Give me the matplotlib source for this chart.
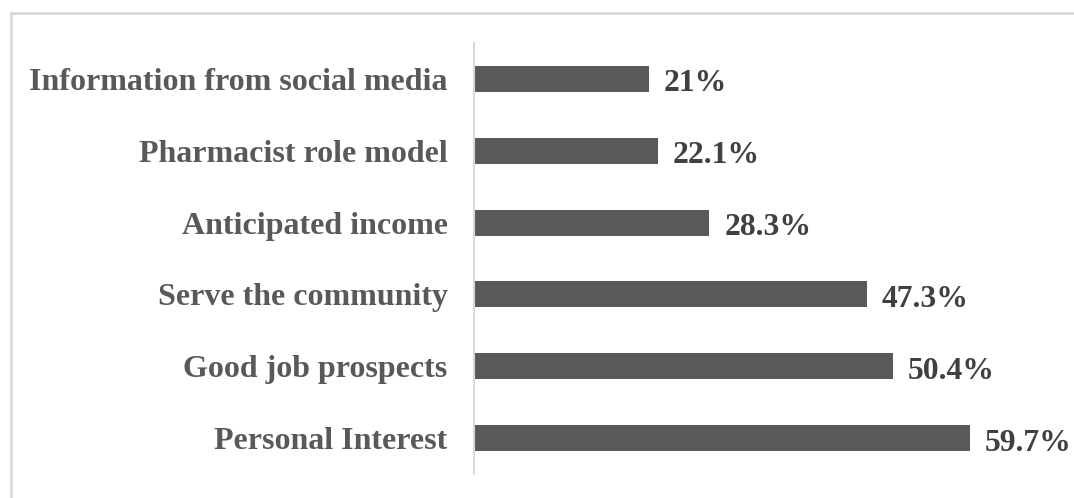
import matplotlib.pyplot as plt
from matplotlib.patches import Rectangle

reasons = ['Information from social media', 'Pharmacist role model', 'Anticipated income',
           'Serve the community', 'Good job prospects', 'Personal Interest']
percents = [21, 22.1, 28.3, 47.3, 50.4, 59.7]
labels = ['21%', '22.1%', '28.3%', '47.3%', '50.4%', '59.7%']

plt.rcParams['font.family'] = ['Liberation Serif', 'DejaVu Serif']

W, H = 1074, 498
fig = plt.figure(figsize=(W / 100, H / 100), dpi=100)

# light gray frame around the chart area (runs off right and bottom edges)
fig.patches.append(Rectangle((11 / W, -0.1), 1.2, 1 - 13 / H + 0.1, transform=fig.transFigure,
                             fill=False, edgecolor='#d9d9d9', linewidth=2))

ax = fig.add_axes([474 / W, 1 - 474 / H, (1020 - 474) / W, (474 - 43) / H])

y = list(range(len(reasons)))[::-1]
ax.barh(y, percents, height=0.36, color='#595959')
for yi, p, lab in zip(y, percents, labels):
    ax.text(p + 1.8, yi - 0.07, lab, va='center', ha='left', fontsize=22.8,
            fontweight='bold', color='#404040')

ax.set_yticks(y)
ax.set_yticklabels(reasons, fontsize=23, fontweight='bold', color='#595959')
ax.tick_params(axis='y', length=0, pad=19)
ax.set_xlim(0, 65.7)
ax.set_ylim(-0.5, 5.5)
ax.set_xticks([])
for s in ['top', 'right', 'bottom']:
    ax.spines[s].set_visible(False)
ax.spines['left'].set_color('#d9d9d9')
ax.spines['left'].set_linewidth(1.5)

fig.savefig('out.png', dpi=100)
